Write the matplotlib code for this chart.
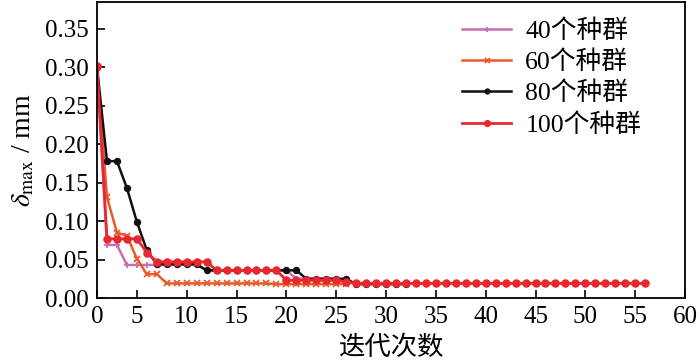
import numpy as np
import matplotlib

matplotlib.use("Agg")
import matplotlib.pyplot as plt

plt.rcParams["font.family"] = ["Liberation Serif", "Noto Sans CJK SC"]
plt.rcParams["mathtext.fontset"] = "stix"

# values (iteration index starts at the left edge)
pop40 = [0.300, 0.069, 0.069, 0.043, 0.043, 0.043, 0.043, 0.043, 0.043, 0.043,
         0.043, 0.036, 0.036, 0.036, 0.036, 0.036, 0.036, 0.036, 0.036, 0.036,
         0.025, 0.025, 0.025, 0.025, 0.025, 0.019]
pop60 = [0.300, 0.131, 0.085, 0.081, 0.051, 0.031, 0.031, 0.019, 0.019, 0.019,
         0.019, 0.019, 0.019, 0.019, 0.019, 0.019, 0.019, 0.019, 0.018, 0.018,
         0.018, 0.018, 0.018, 0.018, 0.018, 0.018]
pop80 = [0.300, 0.178, 0.178, 0.143, 0.099, 0.062, 0.044, 0.044, 0.044, 0.044,
         0.044, 0.036, 0.036, 0.036, 0.036, 0.036, 0.036, 0.036, 0.036, 0.036,
         0.036, 0.025, 0.025, 0.025, 0.025, 0.025, 0.018, 0.018, 0.018, 0.018,
         0.018, 0.018]
pop100 = [0.302, 0.077, 0.077, 0.077, 0.077, 0.059, 0.047, 0.047, 0.047, 0.047,
          0.047, 0.047, 0.036, 0.036, 0.036, 0.036, 0.036, 0.036, 0.036, 0.023,
          0.023, 0.023, 0.023, 0.023, 0.023, 0.021] + [0.019] * 30

labels = ["40个种群", "60个种群", "80个种群", "100个种群"]
xtick_pos = [1, 5, 10, 15, 20, 25, 30, 35, 40, 45, 50, 55, 60]
xtick_labels = ["0", "5", "10", "15", "20", "25", "30", "35", "40", "45", "50", "55", "60"]
yticks = [0.00, 0.05, 0.10, 0.15, 0.20, 0.25, 0.30, 0.35]

fig = plt.figure(figsize=(7.0, 3.64), dpi=100)
ax = fig.add_axes([0.1386, 0.1813, 0.8400, 0.8132])

styles = [
    ("#c96db4", "+", 4.5, 1.8),
    ("#e85a2a", "x", 4.5, 1.8),
    ("#111111", "o", 4.0, 1.8),
    ("#e8282e", "o", 4.8, 2.0),
]
for values, label, (color, marker, ms, lw) in zip(
    [pop40, pop60, pop80, pop100], labels, styles
):
    x = np.arange(1, len(values) + 1)
    ax.plot(x, values, color=color, marker=marker, markersize=ms,
            linewidth=lw, markeredgewidth=1.3, label=label)

ax.set_xlim(1, 60)
ax.set_ylim(0, 0.385)
ax.set_xticks(xtick_pos)
ax.set_xticklabels(xtick_labels)
ax.set_yticks(yticks)
ax.set_yticklabels([f"{v:.2f}" for v in yticks])
ax.tick_params(direction="in", length=6, width=1.2, labelsize=18, pad=6)
for spine in ax.spines.values():
    spine.set_linewidth(1.3)

ax.set_xlabel("迭代次数", fontsize=19, labelpad=5)
ax.set_ylabel(r"$\delta_{\rm max}$ / mm", fontsize=20, labelpad=6)

ax.legend(loc="upper left", bbox_to_anchor=(0.595, 0.995), frameon=False,
          fontsize=18.5, handlelength=1.9, labelspacing=0.3, borderaxespad=0.2,
          handletextpad=0.55, markerscale=0.8)

fig.savefig("out.png", dpi=100)
